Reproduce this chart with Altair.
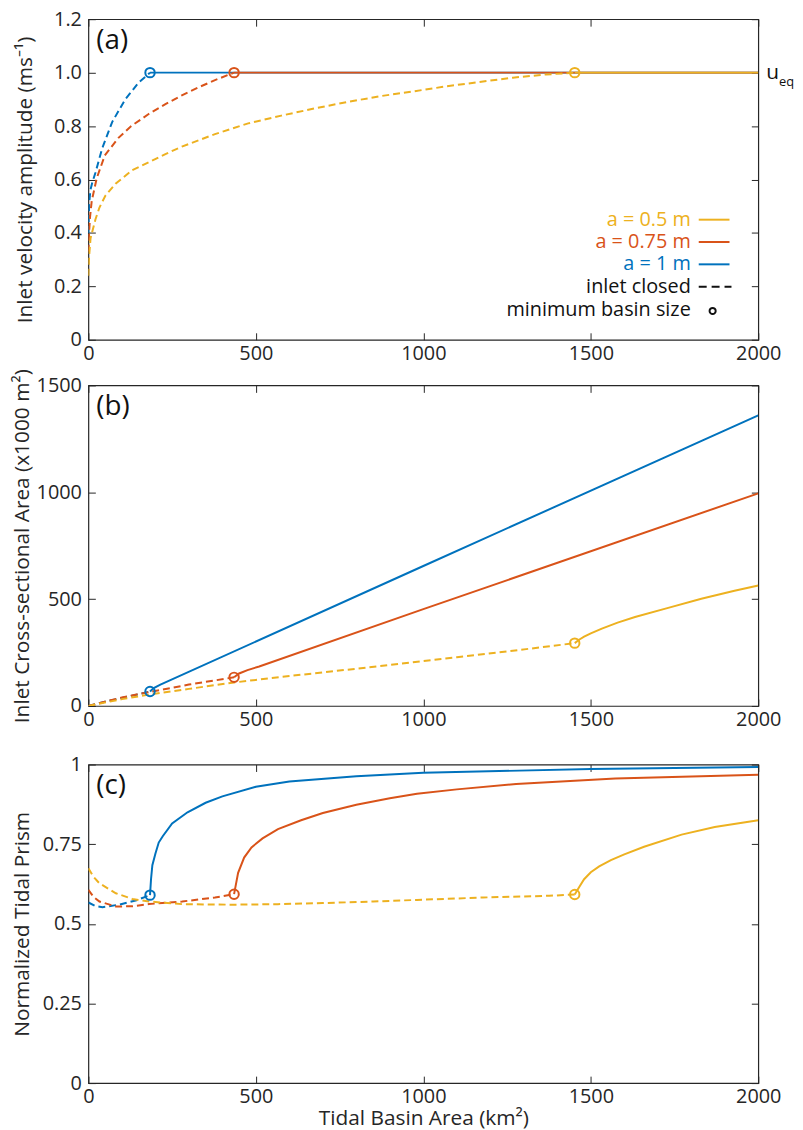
import altair as alt
import pandas as pd

FONT = "Open Sans"
BLUE = "#0072BD"
ORANGE = "#D95319"
YELLOW = "#EDB120"
INK = "#262626"

series_names = ["a = 1 m", "a = 0.75 m", "a = 0.5 m"]
series_colors = [BLUE, ORANGE, YELLOW]
x_ticks = [0, 500, 1000, 1500, 2000]
min_basin_x = [184, 435, 1452]

# ---------------- panel (a): inlet velocity amplitude ----------------
a_blue_closed_x = [0, 1, 3, 6, 12, 21, 41, 71, 110, 150, 184]
a_blue_closed_y = [0.40, 0.46, 0.52, 0.56, 0.59, 0.625, 0.716, 0.815, 0.90, 0.963, 1.0]
a_blue_open_x = [184, 2000]
a_blue_open_y = [1.0, 1.0]
a_orange_closed_x = [0, 2, 5, 10, 25, 49, 89, 128, 181, 230, 279, 329, 378, 435]
a_orange_closed_y = [0.33, 0.40, 0.46, 0.52, 0.605, 0.69, 0.755, 0.80, 0.846, 0.882, 0.915, 0.945, 0.972, 1.0]
a_orange_open_x = [435, 2000]
a_orange_open_y = [1.0, 1.0]
a_yellow_closed_x = [0, 2, 6.5, 21, 33, 51, 82, 131, 181, 230, 279, 378, 477, 576, 675, 773, 872, 971, 1070, 1168, 1267, 1366, 1452]
a_yellow_closed_y = [0.24, 0.31, 0.38, 0.45, 0.495, 0.54, 0.585, 0.635, 0.665, 0.695, 0.723, 0.77, 0.81, 0.839, 0.866, 0.89, 0.912, 0.93, 0.949, 0.965, 0.981, 0.993, 1.0]
a_yellow_open_x = [1452, 2000]
a_yellow_open_y = [1.0, 1.0]
a_min_y = [1.0, 1.0, 1.0]
a_y_ticks = [0, 0.2, 0.4, 0.6, 0.8, 1.0, 1.2]

# ---------------- panel (b): inlet cross-sectional area ----------------
b_blue_closed_x = [0, 50, 100, 150, 184]
b_blue_closed_y = [0, 20, 38, 55, 68]
b_blue_open_x = [184, 195, 215, 1000, 2000]
b_blue_open_y = [68, 84, 100, 655, 1360]
b_orange_closed_x = [0, 100, 184, 300, 435]
b_orange_closed_y = [0, 40, 66, 100, 134]
b_orange_open_x = [435, 450, 475, 510, 1000, 2000]
b_orange_open_y = [134, 152, 168, 185, 453, 995]
b_yellow_closed_x = [0, 100, 184, 300, 435, 600, 862, 1100, 1307, 1452]
b_yellow_closed_y = [0, 32, 54, 80, 110, 140, 185, 228, 266, 294]
b_yellow_open_x = [1452, 1465, 1480, 1500, 1533, 1580, 1632, 1731, 1830, 1929, 2000]
b_yellow_open_y = [294, 310, 324, 340, 362, 390, 416, 459, 502, 539, 564]
b_min_y = [68, 134, 294]
b_y_ticks = [0, 500, 1000, 1500]

# ---------------- panel (c): normalized tidal prism ----------------
c_blue_closed_x = [0, 20, 42, 91, 141, 184]
c_blue_closed_y = [0.567, 0.556, 0.552, 0.56, 0.573, 0.59]
c_blue_open_x = [184, 187, 191, 200, 210, 222, 250, 296, 350, 400, 500, 600, 800, 1000, 1500, 2000]
c_blue_open_y = [0.59, 0.64, 0.684, 0.72, 0.755, 0.775, 0.815, 0.85, 0.88, 0.90, 0.93, 0.947, 0.963, 0.974, 0.986, 0.992]
c_orange_closed_x = [0, 15, 33, 82, 131, 181, 280, 378, 435]
c_orange_closed_y = [0.607, 0.585, 0.570, 0.5545, 0.555, 0.562, 0.570, 0.5825, 0.593]
c_orange_open_x = [435, 447, 465, 487, 520, 566, 635, 700, 800, 900, 981, 1100, 1277, 1573, 2000]
c_orange_open_y = [0.593, 0.66, 0.708, 0.74, 0.768, 0.797, 0.825, 0.848, 0.874, 0.894, 0.908, 0.922, 0.939, 0.956, 0.968]
c_yellow_closed_x = [0, 15, 33, 82, 131, 181, 280, 429, 566, 700, 850, 981, 1178, 1376, 1452]
c_yellow_closed_y = [0.674, 0.648, 0.627, 0.596, 0.578, 0.570, 0.5617, 0.56, 0.5617, 0.565, 0.57, 0.575, 0.5826, 0.588, 0.592]
c_yellow_open_x = [1452, 1465, 1480, 1500, 1525, 1560, 1600, 1659, 1771, 1870, 2000]
c_yellow_open_y = [0.592, 0.615, 0.64, 0.662, 0.68, 0.70, 0.718, 0.742, 0.78, 0.804, 0.825]
c_min_y = [0.59, 0.593, 0.592]
c_y_ticks = [0, 0.25, 0.5, 0.75, 1]

legend_labels = ["a = 0.5 m", "a = 0.75 m", "a = 1 m", "inlet closed", "minimum basin size"]
legend_colors = [YELLOW, ORANGE, BLUE, "#111111", "#111111"]

W = 675
ONE = alt.Data(values=[{}])


def text_layer(txt, x, y, size, color="#111111", align="left", baseline="middle", opacity=1):
    return alt.Chart(ONE).mark_text(
        text=txt, font=FONT, fontSize=size, color=color, align=align,
        baseline=baseline, opacity=opacity
    ).encode(x=alt.value(x), y=alt.value(y))


def panel(curves, min_y, ydomain, yticks, ytitle, ylabel_expr, title_pad,
          letter, height, xtitle=None, extras=()):
    xs = alt.Scale(domain=[0, 2000], nice=False, zero=False)
    ys = alt.Scale(domain=ydomain, nice=False, zero=False)
    x_bottom = alt.Axis(orient="bottom", values=x_ticks, format="d", offset=-7, tickSize=7,
                        domain=False, grid=False, labelPadding=4, labelFlush=False,
                        title=xtitle, titlePadding=1)
    y_left = alt.Axis(orient="left", values=yticks, offset=-7, tickSize=7, domain=False,
                      grid=False, labelPadding=7, labelFlush=False, labelExpr=ylabel_expr,
                      title=ytitle, titlePadding=title_pad)
    x_top = alt.Axis(orient="top", values=x_ticks, offset=-7, tickSize=7, domain=False,
                     grid=False, labels=False, title=None)
    y_right = alt.Axis(orient="right", values=yticks, offset=-7, tickSize=7, domain=False,
                       grid=False, labels=False, title=None)

    layers = []
    first = True
    for color, cx, cy, ox, oy in curves:
        for dashed, px, py in [(True, cx, cy), (False, ox, oy)]:
            df = pd.DataFrame({"x": px, "y": py})
            mk = dict(color=color, strokeWidth=2, clip=True)
            if dashed:
                mk["strokeDash"] = [7, 4]
            if first:
                enc = dict(x=alt.X("x:Q", scale=xs, axis=x_bottom),
                           y=alt.Y("y:Q", scale=ys, axis=y_left))
                first = False
            else:
                enc = dict(x=alt.X("x:Q", scale=xs, axis=None),
                           y=alt.Y("y:Q", scale=ys, axis=None))
            layers.append(alt.Chart(df).mark_line(**mk).encode(**enc))

    cdf = pd.DataFrame({"x": min_basin_x, "y": min_y, "s": series_names})
    layers.append(
        alt.Chart(cdf).mark_point(shape="circle", filled=False, size=90, strokeWidth=2, opacity=1)
        .encode(
            x=alt.X("x:Q", scale=xs, axis=x_top),
            y=alt.Y("y:Q", scale=ys, axis=y_right),
            color=alt.Color("s:N", scale=alt.Scale(domain=series_names, range=series_colors),
                            legend=None),
        )
    )
    layers.append(text_layer(letter, 8, 30, 28, baseline="alphabetic"))
    layers.extend(extras)
    return alt.layer(*layers).resolve_axis(x="independent", y="independent").properties(
        width=W, height=height)


# legend + u_eq for panel (a)
leg_rows = [202, 224.5, 247, 269.5, 293]
extras_a = []
for i, (lab, col) in enumerate(zip(legend_labels, legend_colors)):
    extras_a.append(text_layer(lab, 607, leg_rows[i], 20, color=col, align="right"))
for i in range(3):
    extras_a.append(
        alt.Chart(ONE).mark_rule(color=legend_colors[i], strokeWidth=2)
        .encode(x=alt.value(615), x2=alt.value(646), y=alt.value(leg_rows[i]))
    )
extras_a.append(
    alt.Chart(ONE).mark_rule(color="#111111", strokeWidth=2, strokeDash=[8, 5])
    .encode(x=alt.value(615), x2=alt.value(648), y=alt.value(leg_rows[3]))
)
extras_a.append(
    alt.Chart(ONE).mark_point(shape="circle", filled=False, size=38, strokeWidth=2,
                              color="#111111", opacity=1)
    .encode(x=alt.value(629), y=alt.value(leg_rows[4] + 1))
)
extras_a.append(text_layer("u", 683, 60, 21, baseline="alphabetic"))
extras_a.append(text_layer("eq", 696, 67, 13, baseline="alphabetic"))

pa = panel(
    [(BLUE, a_blue_closed_x, a_blue_closed_y, a_blue_open_x, a_blue_open_y),
     (ORANGE, a_orange_closed_x, a_orange_closed_y, a_orange_open_x, a_orange_open_y),
     (YELLOW, a_yellow_closed_x, a_yellow_closed_y, a_yellow_open_x, a_yellow_open_y)],
    a_min_y, [0, 1.2], a_y_ticks, "Inlet velocity amplitude (ms\u207b\u00b9)",
    "datum.value == 0 ? '0' : format(datum.value, '.1f')", 18, "(a)", 323,
    extras=extras_a)

pb = panel(
    [(BLUE, b_blue_closed_x, b_blue_closed_y, b_blue_open_x, b_blue_open_y),
     (ORANGE, b_orange_closed_x, b_orange_closed_y, b_orange_open_x, b_orange_open_y),
     (YELLOW, b_yellow_closed_x, b_yellow_closed_y, b_yellow_open_x, b_yellow_open_y)],
    b_min_y, [0, 1500], b_y_ticks, "Inlet Cross-sectional Area (x1000 m\u00b2)",
    "'' + datum.value", 4, "(b)", 323)

pc = panel(
    [(BLUE, c_blue_closed_x, c_blue_closed_y, c_blue_open_x, c_blue_open_y),
     (ORANGE, c_orange_closed_x, c_orange_closed_y, c_orange_open_x, c_orange_open_y),
     (YELLOW, c_yellow_closed_x, c_yellow_closed_y, c_yellow_open_x, c_yellow_open_y)],
    c_min_y, [0, 1], c_y_ticks, "Normalized Tidal Prism",
    "'' + datum.value", 10, "(c)", 321, xtitle="Tidal Basin Area (km\u00b2)",
    extras=[text_layer(".", 0, -19.5, 20, opacity=0)])

chart = alt.vconcat(pa, pb, pc, spacing=3).properties(
    padding={"left": 2, "top": -4, "right": 0, "bottom": 0}
).configure_axis(
    labelFont=FONT, labelFontSize=20, labelColor=INK, tickColor=INK, tickWidth=1,
    titleFont=FONT, titleFontSize=21, titleFontWeight="normal", titleColor=INK,
).configure_view(stroke=INK, strokeWidth=1.2)

chart.save("out.html", embed_options={"renderer": "svg", "actions": False})
